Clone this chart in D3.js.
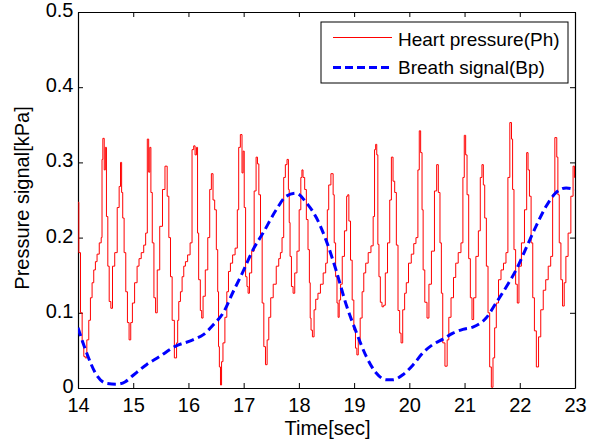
<!DOCTYPE html>
<html>
<head>
<meta charset="utf-8">
<script src="https://cdn.jsdelivr.net/npm/d3@7"></script>
<style>
  body { margin: 0; background: #fff; }
  svg text { font-family: "Liberation Sans", Arial, Helvetica, sans-serif; fill: #000; }
</style>
</head>
<body>
<svg id="chart" width="595" height="441"></svg>
<script>
// heart pressure (Ph): [time sec, kPa]
var heartPressure = [
  [14.00,0.247],[14.03,0.18],[14.06,0.10],[14.09,0.06],[14.12,0.042],[14.14,0.04],[14.18,0.064],[14.21,0.09],
  [14.24,0.12],[14.27,0.14],[14.30,0.157],[14.33,0.168],[14.36,0.178],[14.41,0.193],[14.43,0.20],[14.44,0.304],
  [14.46,0.332],[14.49,0.29],[14.50,0.32],[14.53,0.228],[14.55,0.162],[14.58,0.115],[14.61,0.106],[14.64,0.162],
  [14.69,0.18],[14.73,0.24],[14.76,0.268],[14.78,0.30],[14.80,0.26],[14.82,0.226],[14.85,0.18],[14.88,0.128],
  [14.91,0.087],[14.94,0.064],[14.97,0.087],[15.00,0.113],[15.05,0.14],[15.09,0.162],[15.12,0.172],[15.17,0.18],
  [15.21,0.19],[15.24,0.206],[15.27,0.331],[15.29,0.287],[15.31,0.32],[15.33,0.26],[15.36,0.193],[15.39,0.12],
  [15.42,0.10],[15.45,0.157],[15.51,0.215],[15.55,0.264],[15.60,0.295],[15.63,0.255],[15.66,0.20],[15.69,0.148],
  [15.72,0.09],[15.77,0.04],[15.80,0.06],
  [15.81,0.09],[15.84,0.115],[15.87,0.128],[15.90,0.148],[15.93,0.162],[15.96,0.168],[16.01,0.177],[16.05,0.193],
  [16.08,0.317],[16.11,0.322],[16.13,0.31],[16.16,0.32],[16.17,0.206],[16.20,0.144],[16.23,0.103],[16.25,0.093],
  [16.28,0.122],[16.33,0.157],[16.37,0.20],[16.40,0.264],[16.43,0.285],[16.46,0.25],[16.49,0.237],[16.52,0.184],
  [16.54,0.128],[16.55,0.055],[16.57,0.028],[16.59,0.004],[16.61,0.035],[16.64,0.06],[16.68,0.094],[16.71,0.128],
  [16.74,0.155],[16.78,0.166],[16.82,0.177],[16.87,0.186],[16.90,0.237],[16.92,0.32],[16.96,0.337],[16.98,0.286],
  [17.00,0.315],[17.02,0.24],[17.05,0.148],[17.07,0.135],[17.09,0.126],[17.12,0.153],[17.17,0.182],[17.21,0.262],
  [17.24,0.307],[17.26,0.298],[17.29,0.257],[17.32,0.204],[17.35,0.113],[17.38,0.055],[17.41,0.031],[17.44,0.064],
  [17.47,0.094],[17.51,0.12],[17.56,0.138],
  [17.62,0.162],[17.65,0.172],[17.68,0.18],[17.71,0.20],[17.74,0.28],[17.77,0.297],[17.80,0.304],[17.82,0.264],
  [17.83,0.22],[17.85,0.175],[17.88,0.135],[17.91,0.126],[17.94,0.153],[17.99,0.182],[18.02,0.237],[18.05,0.28],
  [18.06,0.29],[18.09,0.28],[18.12,0.264],[18.15,0.224],[18.18,0.184],[18.20,0.14],[18.21,0.093],[18.23,0.077],
  [18.26,0.068],[18.29,0.104],[18.32,0.118],[18.37,0.126],[18.41,0.138],[18.47,0.153],[18.50,0.166],[18.53,0.237],
  [18.55,0.27],[18.61,0.285],[18.63,0.257],[18.65,0.193],[18.68,0.148],[18.70,0.113],[18.72,0.094],[18.74,0.117],
  [18.77,0.138],[18.80,0.175],[18.85,0.209],[18.88,0.255],[18.89,0.257],[18.92,0.222],[18.95,0.17],[18.98,0.117],
  [19.01,0.077],[19.04,0.053],[19.06,0.044],[19.09,0.064],[19.13,0.093],[19.16,0.128],[19.19,0.153],[19.23,0.166],
  [19.28,0.18],[19.33,0.189],[19.36,0.228],[19.38,0.317],[19.40,0.324],[19.42,0.31],
  [19.44,0.191],[19.46,0.148],[19.49,0.114],[19.52,0.108],[19.55,0.11],[19.58,0.153],[19.63,0.193],[19.66,0.25],
  [19.69,0.307],[19.72,0.275],[19.75,0.26],[19.78,0.19],[19.81,0.103],[19.84,0.073],[19.86,0.06],[19.90,0.104],
  [19.93,0.126],[19.96,0.14],[20.01,0.166],[20.06,0.178],[20.10,0.192],[20.14,0.20],[20.17,0.29],[20.19,0.342],
  [20.22,0.313],[20.24,0.237],[20.26,0.157],[20.30,0.114],[20.34,0.093],[20.37,0.138],[20.43,0.182],[20.48,0.262],
  [20.51,0.297],[20.54,0.26],[20.57,0.193],[20.59,0.126],[20.62,0.06],[20.67,0.029],[20.70,0.064],[20.73,0.094],
  [20.78,0.12],[20.82,0.147],[20.86,0.166],[20.91,0.18],[20.96,0.193],[20.98,0.28],[21.01,0.336],[21.03,0.31],
  [21.06,0.257],[21.09,0.172],[21.12,0.12],[21.15,0.091],[21.18,0.12],[21.23,0.175],
  [21.27,0.209],[21.30,0.28],[21.33,0.297],[21.35,0.27],[21.38,0.226],[21.41,0.162],[21.44,0.10],[21.47,0.028],
  [21.50,0.001],[21.53,0.04],[21.56,0.08],[21.59,0.113],[21.64,0.144],[21.68,0.157],[21.73,0.166],[21.77,0.18],
  [21.80,0.28],[21.84,0.353],[21.86,0.331],[21.88,0.264],[21.91,0.184],[21.94,0.138],[21.97,0.113],[22.00,0.162],
  [22.06,0.193],[22.11,0.237],[22.14,0.313],[22.16,0.29],[22.19,0.255],[22.22,0.193],[22.25,0.12],[22.28,0.076],
  [22.32,0.028],[22.36,0.068],[22.40,0.104],[22.45,0.13],[22.49,0.144],[22.54,0.162],[22.58,0.175],[22.61,0.257],
  [22.66,0.333],[22.68,0.307],[22.70,0.257],[22.73,0.193],[22.76,0.144],[22.79,0.109],[22.82,0.14],[22.85,0.175],
  [22.90,0.206],[22.95,0.255],[22.98,0.295],[23.00,0.28]
];

// breath signal (Bp): [time sec, kPa]
var breathSignal = [
  [14.00,0.080],[14.15,0.048],[14.33,0.018],[14.52,0.006],[14.70,0.005],[14.85,0.008],[15.00,0.017],
  [15.24,0.031],[15.48,0.042],[15.75,0.055],[16.08,0.064],[16.27,0.071],[16.45,0.084],[16.63,0.100],
  [16.81,0.128],[16.99,0.155],[17.17,0.184],[17.35,0.206],[17.59,0.237],[17.77,0.255],[17.95,0.259],
  [18.14,0.246],[18.32,0.226],[18.50,0.195],[18.68,0.155],[18.86,0.110],[19.04,0.074],[19.22,0.042],
  [19.40,0.020],[19.58,0.011],[19.70,0.011],[19.89,0.018],[20.07,0.031],[20.25,0.047],[20.43,0.058],
  [20.61,0.065],[20.79,0.073],[20.97,0.078],[21.15,0.081],[21.39,0.093],[21.57,0.113],[21.76,0.135],
  [21.94,0.158],[22.12,0.187],[22.30,0.216],[22.48,0.242],[22.66,0.260],[22.84,0.266],[23.00,0.264]
];

var xTicks = [14, 15, 16, 17, 18, 19, 20, 21, 22, 23];
var yTicks = [0, 0.1, 0.2, 0.3, 0.4, 0.5];
var xLabel = "Time[sec]";
var yLabel = "Pressure signal[kPa]";
var seriesNames = ["Heart pressure(Ph)", "Breath signal(Bp)"];

var svg = d3.select("#chart");
var margin = { top: 12, right: 20, bottom: 53, left: 78 },
    width = +svg.attr("width") - margin.left - margin.right,
    height = +svg.attr("height") - margin.top - margin.bottom;
var g = svg.append("g").attr("transform", "translate(" + margin.left + "," + margin.top + ")");

var x = d3.scaleLinear().domain([14, 23]).range([0, width]);
var y = d3.scaleLinear().domain([0, 0.5]).range([height, 0]);

g.append("rect").attr("width", width).attr("height", height).attr("fill", "#fff");

svg.append("clipPath").attr("id", "clip")
  .append("rect").attr("x", margin.left).attr("y", margin.top).attr("width", width).attr("height", height);

var fontSize = 20;

// axes, MATLAB style: ticks inside on all sides
var xAx = g.append("g")
  .attr("transform", "translate(0," + height + ")")
  .call(d3.axisBottom(x).tickValues(xTicks).tickSizeInner(-5).tickSizeOuter(0).tickPadding(10).tickFormat(d3.format("d")));
var yAx = g.append("g")
  .call(d3.axisLeft(y).tickValues(yTicks).tickSizeInner(-5).tickSizeOuter(0).tickPadding(4.5).tickFormat(function(d) { return d === 0 ? "0" : d3.format(".1f")(d); }));
var xTop = g.append("g")
  .call(d3.axisTop(x).tickValues(xTicks).tickSizeInner(-5).tickSizeOuter(0).tickFormat(""));
var yRight = g.append("g")
  .attr("transform", "translate(" + width + ",0)")
  .call(d3.axisRight(y).tickValues(yTicks).tickSizeInner(-5).tickSizeOuter(0).tickFormat(""));

[xAx, yAx, xTop, yRight].forEach(function(a) {
  a.selectAll("path").attr("stroke", "#000").attr("stroke-width", 1.2);
  a.selectAll("line").attr("stroke", "#000");
  a.selectAll("text").style("font-size", fontSize + "px").attr("fill", "#000");
});
// y tick labels sit a touch above their ticks, like the original
yAx.selectAll("text").attr("y", -2);

var plot = svg.append("g").attr("clip-path", "url(#clip)")
  .append("g").attr("transform", "translate(" + margin.left + "," + margin.top + ")");

plot.append("path")
  .datum(heartPressure)
  .attr("fill", "none")
  .attr("stroke", "#ff0000")
  .attr("stroke-width", 1)
  .attr("d", d3.line()
    .curve(d3.curveStep)
    .x(function(d) { return x(d[0]); })
    .y(function(d) { return y(d[1]); }));

plot.append("path")
  .datum(breathSignal)
  .attr("fill", "none")
  .attr("stroke", "#0000ff")
  .attr("stroke-width", 3)
  .attr("stroke-dasharray", "8.5,4.5")
  .attr("d", d3.line()
    .curve(d3.curveMonotoneX)
    .x(function(d) { return x(d[0]); })
    .y(function(d) { return y(d[1]); }));

// axis labels
g.append("text")
  .attr("x", width / 2 + 1)
  .attr("y", height + 47)
  .style("text-anchor", "middle")
  .style("font-size", fontSize + "px")
  .text(xLabel);
g.append("text")
  .attr("transform", "rotate(-90)")
  .attr("x", -height / 2 + 2)
  .attr("y", -49)
  .style("text-anchor", "middle")
  .style("font-size", fontSize + "px")
  .text(yLabel);

// legend
var legend = svg.append("g").attr("transform", "translate(321,22)");
legend.append("rect")
  .attr("width", 247).attr("height", 61)
  .attr("fill", "#fff").attr("stroke", "#000").attr("stroke-width", 1);
legend.append("line")
  .attr("x1", 12).attr("x2", 71).attr("y1", 15.5).attr("y2", 15.5)
  .attr("stroke", "#ff0000").attr("stroke-width", 1);
legend.append("line")
  .attr("x1", 12).attr("x2", 71).attr("y1", 45.5).attr("y2", 45.5)
  .attr("stroke", "#0000ff").attr("stroke-width", 3).attr("stroke-dasharray", "8,4");
legend.selectAll("text.lg")
  .data(seriesNames)
  .enter().append("text")
  .attr("class", "lg")
  .attr("x", 77)
  .attr("y", function(d, i) { return 23.5 + i * 28.5; })
  .style("font-size", "19px")
  .text(function(d) { return d; });
</script>
</body>
</html>
